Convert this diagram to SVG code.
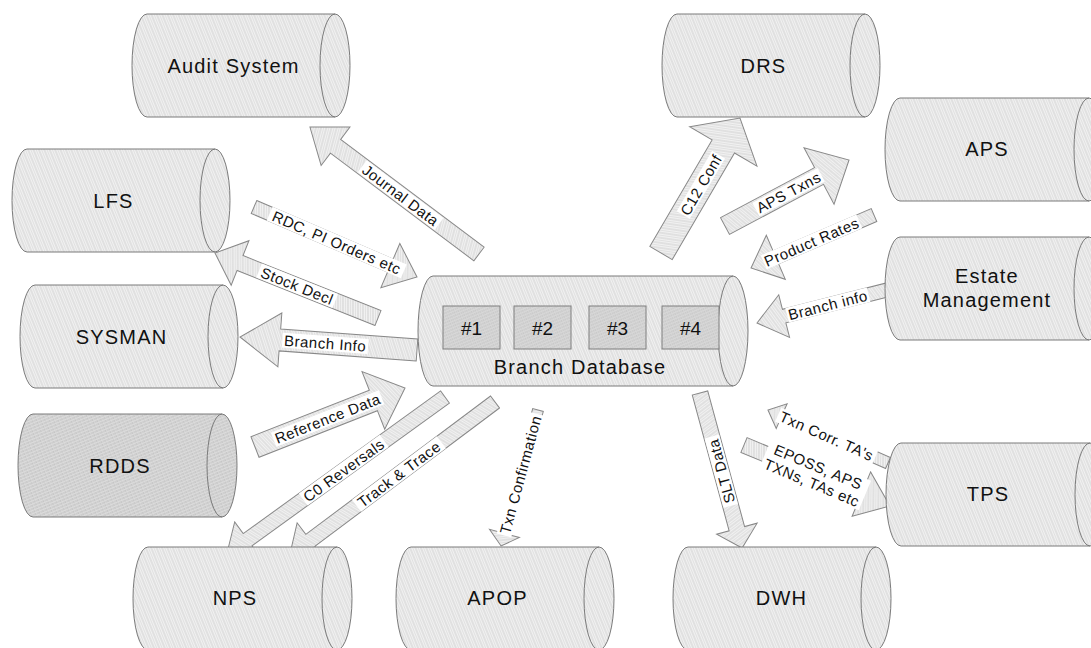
<svg xmlns="http://www.w3.org/2000/svg" width="1091" height="648" viewBox="0 0 1091 648">
  <defs>
    <!-- fine woven texture used for the cylinder bodies and block arrows -->
    <pattern id="tex" patternUnits="userSpaceOnUse" width="5" height="4" patternTransform="rotate(-22)">
      <rect width="5" height="4" fill="#f4f4f4"/>
      <path d="M0 1 H5 M0 3 H5" stroke="#bcbcbc" stroke-width="0.7" stroke-dasharray="1.2 0.8"/>
    </pattern>
    <pattern id="texDark" patternUnits="userSpaceOnUse" width="4" height="3" patternTransform="rotate(-22)">
      <rect width="4" height="3" fill="#dcdcdc"/>
      <path d="M0 1 H4" stroke="#a4a4a4" stroke-width="0.8" stroke-dasharray="1 0.7"/>
    </pattern>
    <pattern id="texBox" patternUnits="userSpaceOnUse" width="4" height="3" patternTransform="rotate(-22)">
      <rect width="4" height="3" fill="#d8d8d8"/>
      <path d="M0 1 H4" stroke="#ababab" stroke-width="0.7" stroke-dasharray="1 0.8"/>
    </pattern>
  </defs>
  <style>
    .body { fill: url(#tex); stroke: #7a7a7a; stroke-width: 1; }
    .body.dark { fill: url(#texDark); }
    .cap { fill: none; stroke: #7a7a7a; stroke-width: 1; }
    .box { fill: url(#texBox); stroke: #7f7f7f; stroke-width: 1; }
    .name { font-family: "Liberation Sans", Arial, sans-serif; font-size: 20px; letter-spacing: 1.2px; fill: #111; text-anchor: middle; }
    .num { font-family: "Liberation Sans", Arial, sans-serif; font-size: 19px; fill: #111; text-anchor: middle; }
    .arrow { fill: url(#tex); stroke: #888; stroke-width: 1; }
    .lblbg { fill: #fff; }
    .lbl { font-family: "Liberation Sans", Arial, sans-serif; font-size: 15px; letter-spacing: 0.5px; fill: #111; text-anchor: middle; dominant-baseline: central; }
  </style>
  <rect width="1091" height="648" fill="#fff"/>

  <!-- block-arrow connectors: each drawn along +x from tail (0,0) to tip (L,0) -->
  <g id="connectors">
    <g id="c-journal" transform="translate(479,254) rotate(216.9)">
      <polygon class="arrow" points="0,-8.5 179.4,-8.5 179.4,-24 211.4,0 179.4,24 179.4,8.5 0,8.5"/>
      <g transform="translate(98,0) rotate(180)"><rect class="lblbg" x="-48" y="-7.5" width="96" height="15"/><text class="lbl">Journal Data</text></g>
    </g>
    <g id="c-rdc" transform="translate(254,207) rotate(23.24)">
      <polygon class="arrow" points="0,-7 148.4,-7 148.4,-24 177.4,0 148.4,24 148.4,7 0,7"/>
      <g transform="translate(90,0)"><rect class="lblbg" x="-73" y="-7.5" width="146" height="15"/><text class="lbl">RDC, PI Orders etc</text></g>
    </g>
    <g id="c-stock" transform="translate(378,318) rotate(201.74)">
      <polygon class="arrow" points="0,-8 148.5,-8 148.5,-24 175.5,0 148.5,24 148.5,8 0,8"/>
      <g transform="translate(87,0) rotate(180)"><rect class="lblbg" x="-41" y="-7.5" width="82" height="15"/><text class="lbl">Stock Decl</text></g>
    </g>
    <g id="c-branchinfo-l" transform="translate(417,350) rotate(184.2)">
      <polygon class="arrow" points="0,-11 137.5,-11 137.5,-27 177.5,0 137.5,27 137.5,11 0,11"/>
      <g transform="translate(92,0) rotate(180)"><rect class="lblbg" x="-43" y="-7.5" width="86" height="15"/><text class="lbl">Branch Info</text></g>
    </g>
    <g id="c-refdata" transform="translate(255,447) rotate(-21.47)">
      <polygon class="arrow" points="0,-11 127.2,-11 127.2,-31 161.2,0 127.2,31 127.2,11 0,11"/>
      <g transform="translate(78,0)"><rect class="lblbg" x="-58" y="-7.5" width="116" height="15"/><text class="lbl">Reference Data</text></g>
    </g>
    <g id="c-c0rev" transform="translate(445,397) rotate(144.13)">
      <polygon class="arrow" points="0,-7.5 243.6,-7.5 243.6,-22 269.6,0 243.6,22 243.6,7.5 0,7.5"/>
      <g transform="translate(125,0) rotate(180)"><rect class="lblbg" x="-50" y="-7.5" width="100" height="15"/><text class="lbl">C0 Reversals</text></g>
    </g>
    <g id="c-track" transform="translate(495,402) rotate(143.15)">
      <polygon class="arrow" points="0,-7.5 230.8,-7.5 230.8,-22 256.8,0 230.8,22 230.8,7.5 0,7.5"/>
      <g transform="translate(120,0) rotate(180)"><rect class="lblbg" x="-53" y="-7.5" width="106" height="15"/><text class="lbl">Track &amp; Trace</text></g>
    </g>
    <g id="c-txnconf" transform="translate(538,410) rotate(105.2)">
      <polygon class="arrow" points="0,-5.5 127.9,-5.5 127.9,-15.5 140.9,0 127.9,15.5 127.9,5.5 0,5.5"/>
      <g transform="translate(67,0) rotate(180)"><rect class="lblbg" x="-63" y="-7.5" width="126" height="15"/><text class="lbl">Txn Confirmation</text></g>
    </g>
    <g id="c-slt" transform="translate(700,393) rotate(74.8)">
      <polygon class="arrow" points="0,-8 140.6,-8 140.6,-21 160.6,0 140.6,21 140.6,8 0,8"/>
      <g transform="translate(81,0) rotate(180)"><rect class="lblbg" x="-36" y="-7.5" width="72" height="15"/><text class="lbl">SLT Data</text></g>
    </g>
    <g id="c-txncorr" transform="translate(888,463) rotate(203.8)">
      <polygon class="arrow" points="0,-6 116.2,-6 116.2,-13.5 131.2,0 116.2,13.5 116.2,6 0,6"/>
      <g transform="translate(67,0) rotate(180)"><rect class="lblbg" x="-53" y="-7.5" width="106" height="15"/><text class="lbl">Txn Corr. TA's</text></g>
    </g>
    <g id="c-eposs" transform="translate(744,445) rotate(22.68)">
      <polygon class="arrow" points="0,-8 127.2,-8 127.2,-24 158.2,0 127.2,24 127.2,8 0,8"/>
      <g transform="translate(77,0)"><rect class="lblbg" x="-54" y="-16" width="108" height="32"/>
        <text class="lbl" y="-8.5">EPOSS, APS</text>
        <text class="lbl" y="8.5">TXNs, TAs etc</text></g>
    </g>
    <g id="c-branchinfo-r" transform="translate(887,290) rotate(165.76)">
      <polygon class="arrow" points="0,-7 106.1,-7 106.1,-22 134.1,0 106.1,22 106.1,7 0,7"/>
      <g transform="translate(61,0) rotate(180)"><rect class="lblbg" x="-42" y="-7.5" width="84" height="15"/><text class="lbl">Branch info</text></g>
    </g>
    <g id="c-rates" transform="translate(874,215) rotate(156.7)">
      <polygon class="arrow" points="0,-7 106.9,-7 106.9,-24 133.9,0 106.9,24 106.9,7 0,7"/>
      <g transform="translate(68,0) rotate(180)"><rect class="lblbg" x="-52" y="-7.5" width="104" height="15"/><text class="lbl">Product Rates</text></g>
    </g>
    <g id="c-apstxns" transform="translate(725,226) rotate(-28.02)">
      <polygon class="arrow" points="0,-9.5 106.5,-9.5 106.5,-32 140.5,0 106.5,32 106.5,9.5 0,9.5"/>
      <g transform="translate(72,0)"><rect class="lblbg" x="-37" y="-7.5" width="74" height="15"/><text class="lbl">APS Txns</text></g>
    </g>
    <g id="c-c12" transform="translate(661,253) rotate(-59.67)">
      <polygon class="arrow" points="0,-13 123.4,-13 123.4,-39 156.4,0 123.4,39 123.4,13 0,13"/>
      <g transform="translate(79,0)"><rect class="lblbg" x="-35" y="-7.5" width="70" height="15"/><text class="lbl">C12 Conf</text></g>
    </g>
  </g>

  <!-- systems drawn as horizontal cylinders -->
  <g id="audit">
    <path class="body" d="M147 14 H335 A15 51.5 0 0 1 335 117 H147 A15 51.5 0 0 1 147 14 Z"/>
    <path class="cap" d="M335 14 A15 51.5 0 0 0 335 117"/>
    <text class="name" x="233.5" y="72.5">Audit System</text>
  </g>
  <g id="drs">
    <path class="body" d="M677 14 H865 A15 51.5 0 0 1 865 117 H677 A15 51.5 0 0 1 677 14 Z"/>
    <path class="cap" d="M865 14 A15 51.5 0 0 0 865 117"/>
    <text class="name" x="763.5" y="72.5">DRS</text>
  </g>
  <g id="lfs">
    <path class="body" d="M27 149 H215 A15 51.5 0 0 1 215 252 H27 A15 51.5 0 0 1 27 149 Z"/>
    <path class="cap" d="M215 149 A15 51.5 0 0 0 215 252"/>
    <text class="name" x="113.5" y="207.5">LFS</text>
  </g>
  <g id="sysman">
    <path class="body" d="M35 285 H223 A15 51.5 0 0 1 223 388 H35 A15 51.5 0 0 1 35 285 Z"/>
    <path class="cap" d="M223 285 A15 51.5 0 0 0 223 388"/>
    <text class="name" x="121.5" y="343.5">SYSMAN</text>
  </g>
  <g id="rdds">
    <path class="body dark" d="M33 414 H222 A15 51.5 0 0 1 222 517 H33 A15 51.5 0 0 1 33 414 Z"/>
    <path class="cap" d="M222 414 A15 51.5 0 0 0 222 517"/>
    <text class="name" x="120" y="472.5">RDDS</text>
  </g>
  <g id="nps">
    <path class="body" d="M148 547 H337 A15 51.5 0 0 1 337 650 H148 A15 51.5 0 0 1 148 547 Z"/>
    <path class="cap" d="M337 547 A15 51.5 0 0 0 337 650"/>
    <text class="name" x="235" y="605">NPS</text>
  </g>
  <g id="apop">
    <path class="body" d="M411 547 H599 A15 51.5 0 0 1 599 650 H411 A15 51.5 0 0 1 411 547 Z"/>
    <path class="cap" d="M599 547 A15 51.5 0 0 0 599 650"/>
    <text class="name" x="497.5" y="605">APOP</text>
  </g>
  <g id="dwh">
    <path class="body" d="M688 547 H876 A15 51.5 0 0 1 876 650 H688 A15 51.5 0 0 1 688 547 Z"/>
    <path class="cap" d="M876 547 A15 51.5 0 0 0 876 650"/>
    <text class="name" x="781.5" y="605">DWH</text>
  </g>
  <g id="aps">
    <path class="body" d="M900 98 H1089 A15 51.5 0 0 1 1089 201 H900 A15 51.5 0 0 1 900 98 Z"/>
    <path class="cap" d="M1089 98 A15 51.5 0 0 0 1089 201"/>
    <text class="name" x="987" y="156">APS</text>
  </g>
  <g id="estate">
    <path class="body" d="M900 237 H1089 A15 51.5 0 0 1 1089 340 H900 A15 51.5 0 0 1 900 237 Z"/>
    <path class="cap" d="M1089 237 A15 51.5 0 0 0 1089 340"/>
    <text class="name" x="987" y="283">Estate</text>
    <text class="name" x="987" y="307">Management</text>
  </g>
  <g id="tps">
    <path class="body" d="M901 443 H1090 A15 51.5 0 0 1 1090 546 H901 A15 51.5 0 0 1 901 443 Z"/>
    <path class="cap" d="M1090 443 A15 51.5 0 0 0 1090 546"/>
    <text class="name" x="988" y="501">TPS</text>
  </g>

  <!-- central store with its four partitions -->
  <g id="branch-db">
    <path class="body" d="M433 276 H733 A15 55 0 0 1 733 386 H433 A15 55 0 0 1 433 276 Z"/>
    <path class="cap" d="M733 276 A15 55 0 0 0 733 386"/>
    <rect class="box" x="443" y="306" width="57" height="43"/>
    <rect class="box" x="514" y="306" width="57" height="43"/>
    <rect class="box" x="589" y="306" width="57" height="43"/>
    <rect class="box" x="662" y="306" width="57" height="43"/>
    <text class="num" x="471.5" y="334.5">#1</text>
    <text class="num" x="542.5" y="334.5">#2</text>
    <text class="num" x="617.5" y="334.5">#3</text>
    <text class="num" x="690.5" y="334.5">#4</text>
    <text class="name" x="580" y="374">Branch Database</text>
  </g>
</svg>
